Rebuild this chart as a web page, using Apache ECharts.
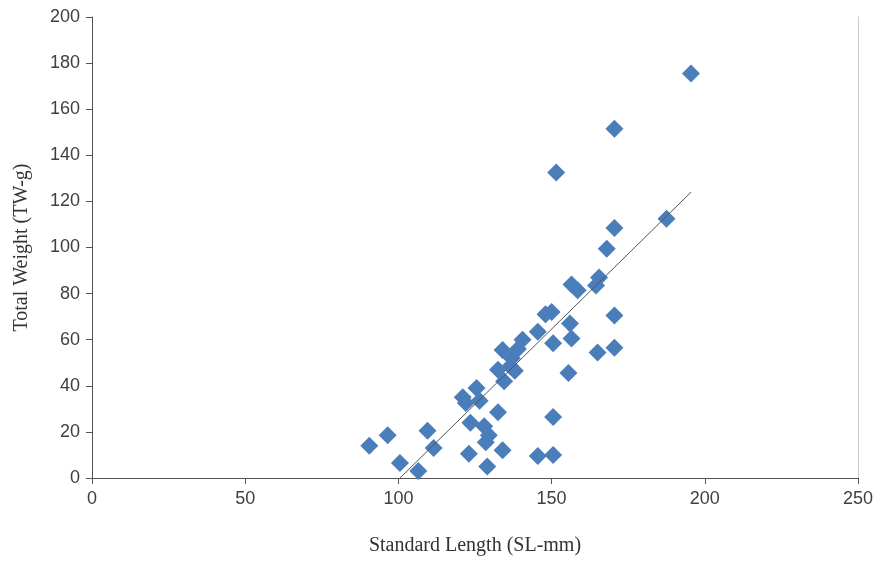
<!DOCTYPE html>
<html>
<head>
<meta charset="utf-8">
<script src="https://cdn.jsdelivr.net/npm/echarts@6/dist/echarts.min.js"></script>
<style>html,body{margin:0;padding:0;background:#fff;}#c{width:883px;height:561px;}</style>
</head>
<body>
<div id="c"></div>
<script>
// Standard length (mm)
var lengthSL = [90.5, 96.5, 100.5, 106.5, 109.5, 111.5, 121, 122, 125.5, 126.5, 123.5, 123,
  128, 129.5, 128.5, 132.5, 129, 134, 132.5, 134, 136.5, 134.5, 138, 139, 140.5, 137,
  145.5, 148, 150, 150.5, 156, 156.5, 155.5, 150.5, 145.5, 150.5,
  151.5, 156.5, 158.5, 165.5, 164.5, 168, 170.5, 170.5, 165, 170.5, 170.5, 187.5, 195.5];
// Total weight (g)
var weightTW = [14, 18.5, 6.5, 3, 20.5, 13, 35, 32.5, 39, 33.5, 24, 10.5,
  22.5, 18.5, 15.5, 28.5, 5, 12, 47, 55.5, 48.5, 42, 46.5, 56, 60, 52,
  63.5, 71, 72, 58.5, 67, 60.5, 45.5, 26.5, 9.5, 10,
  132.5, 84, 81.5, 87, 83.5, 99.5, 108.5, 70.5, 54.5, 56.5, 151.5, 112.5, 175.5];
// Trend line endpoints (as drawn)
var trendX = [100.5, 195.5];
var trendY = [0, 124];
var xTicks = [0, 50, 100, 150, 200, 250];
var yTicks = [0, 20, 40, 60, 80, 100, 120, 140, 160, 180, 200];

var pts = lengthSL.map(function (x, i) { return [x, weightTW[i]]; });
var trend = trendX.map(function (x, i) { return [x, trendY[i]]; });

var chart = echarts.init(document.getElementById('c'), null, {renderer: 'canvas'});
var lblFont = {color: '#404040', fontFamily: 'Liberation Sans', fontSize: 18};
chart.setOption({
  animation: false,
  backgroundColor: '#fff',
  grid: {left: 92, right: 25, top: 17, bottom: 81},
  xAxis: {
    type: 'value', min: xTicks[0], max: xTicks[xTicks.length - 1], interval: 50,
    name: 'Standard Length (SL-mm)', nameLocation: 'middle', nameGap: 58,
    nameTextStyle: {fontFamily: 'Liberation Serif', fontSize: 20, color: '#333'},
    axisLine: {lineStyle: {color: '#555', width: 1}},
    axisTick: {show: true, length: 6, lineStyle: {color: '#555'}},
    axisLabel: Object.assign({margin: 12}, lblFont),
    splitLine: {show: false}
  },
  yAxis: [{
    type: 'value', min: yTicks[0], max: yTicks[yTicks.length - 1], interval: 20,
    name: 'Total Weight (TW-g)', nameLocation: 'middle', nameGap: 60, nameRotate: 90,
    nameTextStyle: {fontFamily: 'Liberation Serif', fontSize: 20, color: '#333'},
    axisLine: {show: true, lineStyle: {color: '#555', width: 1}},
    axisTick: {show: true, length: 6, lineStyle: {color: '#555'}},
    axisLabel: Object.assign({margin: 12}, lblFont),
    splitLine: {show: false}
  }, {
    type: 'value', position: 'right', min: 0, max: 200, interval: 20,
    axisLine: {show: true, lineStyle: {color: '#c8c8c8', width: 1}},
    axisTick: {show: false}, axisLabel: {show: false}, splitLine: {show: false}
  }],
  series: [{
    type: 'scatter', data: pts, symbol: 'diamond', symbolSize: 18,
    itemStyle: {color: '#4A7EBB', opacity: 1}, z: 2
  }, {
    type: 'line', data: trend, symbol: 'none', z: 3,
    lineStyle: {color: '#555', width: 1}
  }]
});
</script>
</body>
</html>
